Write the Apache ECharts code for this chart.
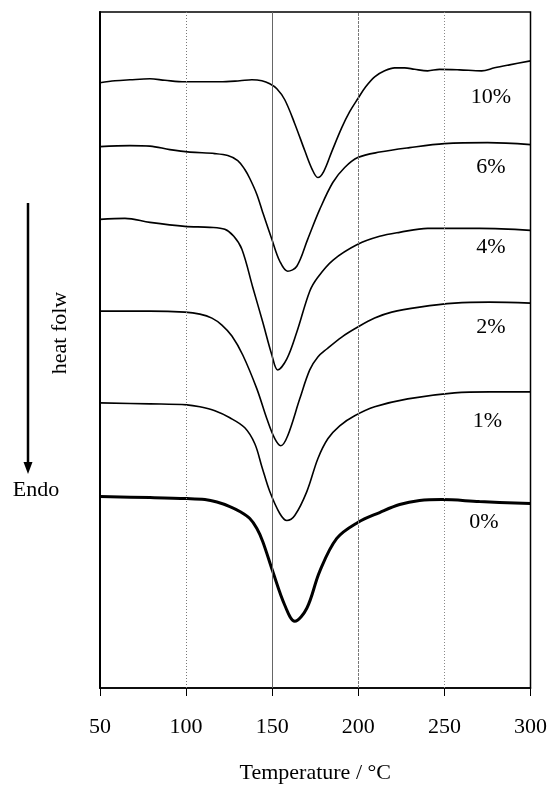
<!DOCTYPE html>
<html>
<head>
<meta charset="utf-8">
<title>DSC curves</title>
<script src="https://cdn.jsdelivr.net/npm/echarts@6/dist/echarts.min.js"></script>
<style>
  html, body { margin: 0; padding: 0; background: #fff; }
  #chart { width: 550px; height: 789px; }
</style>
</head>
<body>
<div id="chart"></div>
<script>
// DSC heating scans (endotherm down), curves offset vertically, arbitrary heat-flow units
const xTicks = [50, 100, 150, 200, 250, 300];
const curveNames = ['10%', '6%', '4%', '2%', '1%', '0%'];

const t10 = [50, 58.7, 67.4, 79, 87.7, 99.3, 108, 119.6, 131.2, 138.2, 144, 148.6, 152.7, 157.3, 163.1, 168.9, 173, 176.5, 179.9, 184.6, 190.4, 195, 199.7, 204.3, 209.5, 215.3, 221.1, 226.9, 232.7, 240.3, 247.2, 258.8, 271.6, 279.1, 287.8, 300];
const q10 = [60.7, 60.9, 61.0, 61.1, 60.95, 60.8, 60.8, 60.8, 60.9, 61.0, 60.9, 60.6, 60.1, 59.0, 56.6, 53.9, 52.1, 51.2, 51.8, 53.8, 56.2, 57.8, 59.1, 60.3, 61.3, 61.9, 62.2, 62.2, 62.05, 61.9, 62.05, 62.0, 61.9, 62.2, 62.5, 62.9];

const t6 = [50, 67.4, 79, 90.6, 102.2, 116.7, 124.2, 130, 134.1, 137, 141.1, 144.5, 149.8, 154.4, 159, 164.3, 170.6, 177.6, 185.2, 192.1, 199.7, 212.4, 229.8, 250.1, 275.1, 300];
const q6 = [54.3, 54.4, 54.35, 54.0, 53.75, 53.6, 53.4, 52.9, 52.0, 51.1, 49.5, 47.7, 45.0, 42.8, 41.8, 42.3, 45.0, 48.0, 50.7, 52.2, 53.2, 53.75, 54.2, 54.6, 54.7, 54.5];

const t4 = [50, 64.5, 79, 99.3, 113.8, 122.5, 127.7, 132.4, 138.7, 144.5, 149.8, 153.2, 158.5, 164.3, 171.8, 176.5, 185.2, 199.7, 212.4, 224, 240.3, 270.4, 300];
const q4 = [47.0, 47.1, 46.7, 46.3, 46.2, 46.0, 45.3, 44.0, 40.2, 36.7, 33.4, 31.9, 33.0, 35.7, 39.8, 41.2, 42.9, 44.5, 45.3, 45.7, 46.1, 46.1, 45.9];

const t2 = [50, 79, 99.3, 108, 115, 120.8, 126.6, 132.9, 141.1, 146.9, 151.5, 155, 159, 166, 171.8, 176.5, 181.7, 190.4, 199.7, 209.5, 219.4, 235.6, 255.9, 276.2, 300];
const q2 = [37.8, 37.8, 37.7, 37.5, 37.1, 36.4, 35.3, 33.4, 30.0, 27.0, 25.0, 24.3, 25.3, 29.0, 31.9, 33.2, 34.0, 35.2, 36.2, 37.1, 37.7, 38.2, 38.6, 38.7, 38.6];

const t1 = [50, 79, 100.5, 108, 116.7, 125.4, 134.1, 139.9, 144, 148.6, 154.4, 158.5, 163.1, 170.1, 176.5, 182.3, 189.2, 197.9, 209.5, 228.7, 255.9, 276.2, 300];
const q1 = [28.6, 28.5, 28.4, 28.2, 27.8, 27.1, 26.1, 24.5, 22.2, 19.7, 17.5, 16.8, 17.3, 19.7, 23.0, 25.0, 26.3, 27.3, 28.2, 29.0, 29.6, 29.7, 29.7];

const t0 = [50, 79, 100.5, 110.9, 117.9, 125.4, 131.2, 137, 141.1, 144.5, 150.3, 157.3, 163.1, 170.1, 177.6, 187.5, 199.7, 212.4, 224, 235.6, 248.4, 270.4, 300];
const q0 = [19.2, 19.1, 19.0, 18.9, 18.65, 18.2, 17.7, 17.0, 16.0, 14.7, 11.7, 8.3, 6.7, 8.0, 11.7, 15.0, 16.6, 17.6, 18.4, 18.8, 18.9, 18.7, 18.5];

const curveTemps = [t10, t6, t4, t2, t1, t0];
const curveFlows = [q10, q6, q4, q2, q1, q0];

const FONT = '"Liberation Serif", "DejaVu Serif", serif';

// where each composition tag sits, in (°C, heat flow)
const tagAnchors = [[277, 59.3], [277, 52.2], [277, 44.2], [277, 36.2], [275, 26.8], [273, 16.6]];

const zip = (xs, ys) => xs.map((x, i) => [x, ys[i]]);

const series = curveNames.map((name, i) => ({
  name: name,
  type: 'line',
  data: zip(curveTemps[i], curveFlows[i]),
  showSymbol: false,
  smooth: 0.35,
  lineStyle: { color: '#000', width: name === '0%' ? 3 : 1.6 },
  silent: true,
  markPoint: {
    symbol: 'circle',
    symbolSize: 0,
    silent: true,
    label: {
      show: true,
      position: 'inside',
      formatter: name,
      fontFamily: FONT,
      fontSize: 22,
      color: '#000'
    },
    data: [{ coord: tagAnchors[i] }]
  }
}));

// vertical guide lines at the major temperatures
series.push({
  type: 'line',
  data: [],
  silent: true,
  markLine: {
    symbol: 'none',
    silent: true,
    label: { show: false },
    data: [
      { xAxis: 100, lineStyle: { color: '#777', width: 1, type: [1, 2] } },
      { xAxis: 150, lineStyle: { color: '#666', width: 1, type: 'solid' } },
      { xAxis: 200, lineStyle: { color: '#777', width: 1, type: [3, 1] } },
      { xAxis: 250, lineStyle: { color: '#888', width: 1, type: [1, 2] } }
    ]
  }
});

const chart = echarts.init(document.getElementById('chart'), null, { renderer: 'canvas' });

chart.setOption({
  backgroundColor: '#fff',
  animation: false,
  grid: {
    left: 100, right: 19, top: 12, bottom: 99,
    show: true, borderColor: '#000', borderWidth: 1.5, backgroundColor: 'transparent'
  },
  xAxis: {
    type: 'value',
    min: xTicks[0],
    max: xTicks[xTicks.length - 1],
    interval: 50,
    name: 'Temperature / °C',
    nameLocation: 'middle',
    nameGap: 74,
    nameTextStyle: { fontFamily: FONT, fontSize: 22, color: '#000' },
    axisLine: { show: true, lineStyle: { color: '#000', width: 1.5 } },
    axisTick: { show: true, inside: false, length: 8, lineStyle: { color: '#000', width: 1 } },
    axisLabel: { fontFamily: FONT, fontSize: 22, color: '#000', margin: 28 },
    splitLine: { show: false }
  },
  yAxis: {
    type: 'value',
    min: 0,
    max: 67.8,
    axisLine: { show: true, lineStyle: { color: '#000', width: 2 } },
    axisTick: { show: false },
    axisLabel: { show: false },
    splitLine: { show: false }
  },
  graphic: [
    {
      type: 'line',
      shape: { x1: 28, y1: 203, x2: 28, y2: 466 },
      style: { stroke: '#000', lineWidth: 2.5 }
    },
    {
      type: 'polygon',
      shape: { points: [[23.5, 462], [32.5, 462], [28, 474]] },
      style: { fill: '#000' }
    },
    {
      type: 'text',
      x: 60, y: 333,
      rotation: Math.PI / 2,
      style: {
        text: 'heat folw',
        fontFamily: FONT, fontSize: 22, fill: '#000',
        align: 'center', verticalAlign: 'middle'
      }
    },
    {
      type: 'text',
      x: 36, y: 490,
      style: {
        text: 'Endo',
        fontFamily: FONT, fontSize: 22, fill: '#000',
        align: 'center', verticalAlign: 'middle'
      }
    }
  ],
  series: series
});
</script>
</body>
</html>
